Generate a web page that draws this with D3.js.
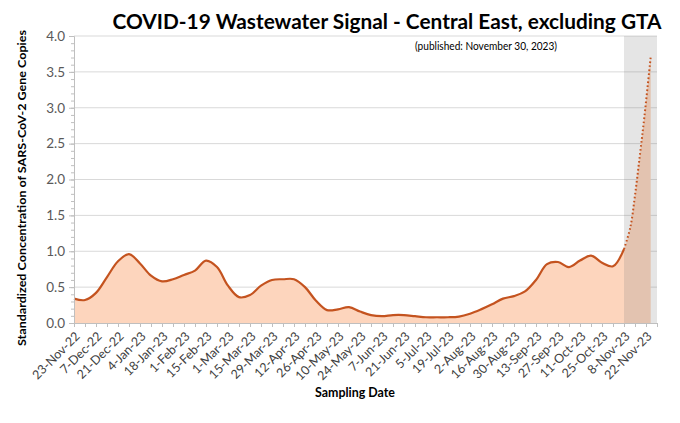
<!DOCTYPE html>
<html>
<head>
<meta charset="utf-8">
<script src="https://cdn.jsdelivr.net/npm/d3@7"></script>
<style>
  body { margin: 0; background: #fff; }
  svg text { font-family: Lato, "Open Sans", sans-serif; }
</style>
</head>
<body>
<div id="chart"></div>
<script>
// weekly sampling values, 23-Nov-22 .. 8-Nov-23
var signalValues = [
  0.34, 0.32, 0.42, 0.64, 0.86, 0.96, 0.83, 0.66, 0.58, 0.61,
  0.67, 0.73, 0.87, 0.78, 0.52, 0.36, 0.39, 0.52, 0.60, 0.61,
  0.61, 0.50, 0.31, 0.18, 0.19, 0.22, 0.16, 0.11, 0.095, 0.11,
  0.11, 0.095, 0.08, 0.08, 0.08, 0.09, 0.13, 0.19, 0.26, 0.34,
  0.375, 0.44, 0.60, 0.82, 0.85, 0.78, 0.87, 0.94, 0.84, 0.79,
  1.03
];
// provisional (dotted) part, inside the grey band
var provisionalDates = ["2023-11-08", "2023-11-12", "2023-11-15", "2023-11-18", "2023-11-21", "2023-11-25"];
var provisionalValues = [1.03, 1.33, 1.78, 2.32, 2.88, 3.71];

var xTickLabels = [
  "23-Nov-22", "7-Dec-22", "21-Dec-22", "4-Jan-23", "18-Jan-23", "1-Feb-23", "15-Feb-23",
  "1-Mar-23", "15-Mar-23", "29-Mar-23", "12-Apr-23", "26-Apr-23", "10-May-23", "24-May-23",
  "7-Jun-23", "21-Jun-23", "5-Jul-23", "19-Jul-23", "2-Aug-23", "16-Aug-23", "30-Aug-23",
  "13-Sep-23", "27-Sep-23", "11-Oct-23", "25-Oct-23", "8-Nov-23", "22-Nov-23"
];
var yTickValues = [0, 0.5, 1.0, 1.5, 2.0, 2.5, 3.0, 3.5, 4.0];

var width = 680, height = 423;
var margin = {left: 74, right: 23, top: 36, bottom: 100};

var parse = d3.utcParse("%Y-%m-%d");
var start = parse("2022-11-23"), axisEnd = parse("2023-11-29");
var bandStart = parse("2023-11-08");

var weeks = d3.utcDay.range(start, d3.utcDay.offset(axisEnd, 1), 7);   // 54 weekly ticks
var solid = signalValues.map(function (v, i) { return {date: weeks[i], value: v}; });
var provisional = provisionalValues.map(function (v, i) { return {date: parse(provisionalDates[i]), value: v}; });
var all = solid.concat(provisional.slice(1));

var x = d3.scaleUtc().domain([start, axisEnd]).range([margin.left, width - margin.right]);
var y = d3.scaleLinear().domain([0, 4]).range([height - margin.bottom, margin.top]);

var svg = d3.select("#chart").append("svg")
    .attr("width", width)
    .attr("height", height);

// horizontal gridlines
svg.append("g")
    .selectAll("line")
    .data(yTickValues.slice(1))
    .enter().append("line")
    .attr("x1", x.range()[0]).attr("x2", x.range()[1])
    .attr("y1", function (d) { return y(d); })
    .attr("y2", function (d) { return y(d); })
    .style("stroke", "#d9d9d9")
    .style("stroke-width", 1);

var curve = d3.curveCatmullRom.alpha(0.5);

// filled area
svg.append("path")
    .datum(all)
    .attr("d", d3.area().curve(curve)
        .x(function (d) { return x(d.date); })
        .y0(y(0))
        .y1(function (d) { return y(d.value); }))
    .style("fill", "#fdd5bd");

// grey band for incomplete data
svg.append("rect")
    .attr("x", x(bandStart))
    .attr("y", y(4))
    .attr("width", x(axisEnd) - x(bandStart))
    .attr("height", y(0) - y(4))
    .style("fill", "#7f7f7f")
    .style("opacity", 0.2);

var line = d3.line().curve(curve)
    .x(function (d) { return x(d.date); })
    .y(function (d) { return y(d.value); });

svg.append("path")
    .datum(solid)
    .attr("d", line)
    .style("fill", "none")
    .style("stroke", "#c4531f")
    .style("stroke-width", 2.2);

svg.append("path")
    .datum(provisional)
    .attr("d", line)
    .style("fill", "none")
    .style("stroke", "#c4531f")
    .style("stroke-width", 2)
    .style("stroke-dasharray", "1.6 2.4");

// y axis: minor then major ticks
svg.append("g")
    .attr("transform", "translate(" + margin.left + ",0)")
    .call(d3.axisLeft(y).tickValues(d3.range(0, 41).map(function (i) { return i / 10; }))
        .tickSize(3).tickFormat(""))
    .call(function (g) { g.select(".domain").remove(); })
    .selectAll("line").style("stroke", "#bfbfbf");

var yAxis = svg.append("g")
    .attr("transform", "translate(" + margin.left + ",0)")
    .call(d3.axisLeft(y).tickValues(yTickValues).tickFormat(d3.format(".1f")).tickSize(5).tickPadding(4));
yAxis.select(".domain").style("stroke", "#bfbfbf");
yAxis.selectAll("line").style("stroke", "#bfbfbf");
yAxis.selectAll("text")
    .style("font-size", "13.5px")
    .style("fill", "#595959");

// x axis: weekly ticks, labels every second week
var xAxis = svg.append("g")
    .attr("transform", "translate(0," + y(0) + ")")
    .call(d3.axisBottom(x).tickValues(weeks).tickSize(4)
        .tickFormat(function (d, i) { return i % 2 === 0 ? (xTickLabels[i / 2] || "") : ""; }));
xAxis.select(".domain").style("stroke", "#bfbfbf");
xAxis.selectAll("line").style("stroke", "#bfbfbf");
xAxis.selectAll("text")
    .style("font-size", "12.5px")
    .style("fill", "#404040")
    .style("text-anchor", "end")
    .attr("dy", "0.35em")
    .attr("y", 0)
    .attr("transform", "translate(3,11) rotate(-45)");

// titles
svg.append("text")
    .attr("x", 387).attr("y", 29)
    .attr("text-anchor", "middle")
    .attr("textLength", 549).attr("lengthAdjust", "spacingAndGlyphs")
    .style("font-size", "20px")
    .style("font-weight", "bold")
    .style("fill", "#000")
    .text("COVID-19 Wastewater Signal - Central East, excluding GTA");

svg.append("text")
    .attr("x", 486).attr("y", 50)
    .attr("text-anchor", "middle")
    .attr("textLength", 142).attr("lengthAdjust", "spacingAndGlyphs")
    .style("font-size", "11px")
    .style("fill", "#000")
    .text("(published: November 30, 2023)");

svg.append("text")
    .attr("transform", "translate(26,188) rotate(-90)")
    .attr("text-anchor", "middle")
    .attr("textLength", 316).attr("lengthAdjust", "spacingAndGlyphs")
    .style("font-size", "12px")
    .style("font-weight", "bold")
    .style("fill", "#000")
    .text("Standardized Concentration of SARS-CoV-2 Gene Copies");

svg.append("text")
    .attr("x", 355).attr("y", 397)
    .attr("text-anchor", "middle")
    .attr("textLength", 80).attr("lengthAdjust", "spacingAndGlyphs")
    .style("font-size", "13px")
    .style("font-weight", "bold")
    .style("fill", "#000")
    .text("Sampling Date");
</script>
</body>
</html>
